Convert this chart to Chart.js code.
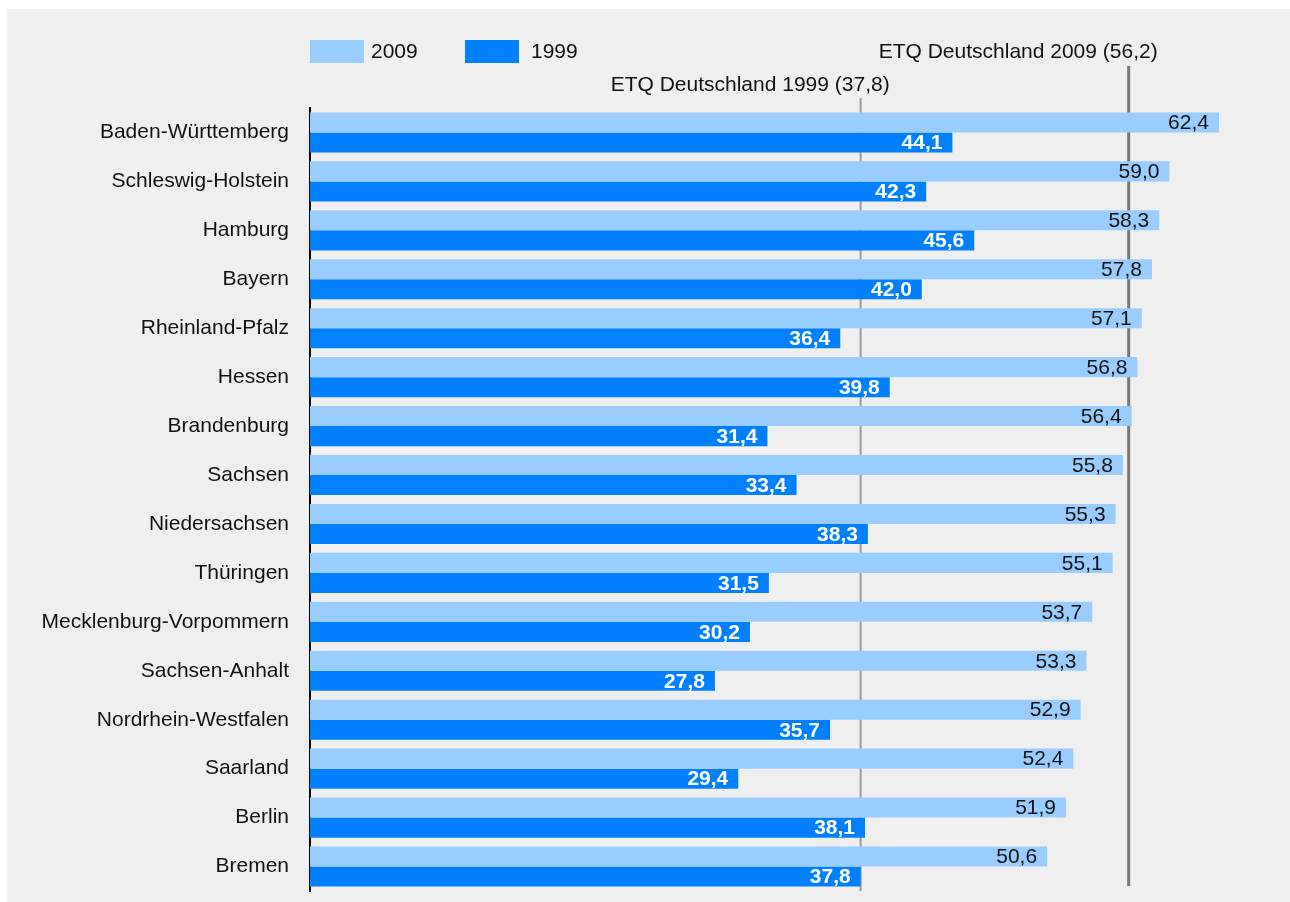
<!DOCTYPE html>
<html>
<head>
<meta charset="utf-8">
<script src="https://cdn.jsdelivr.net/npm/chart.js@4/dist/chart.umd.min.js"></script>
<style>
  body { margin: 0; background: #fff; }
  canvas { display: block; }
</style>
</head>
<body>
<canvas id="etq-chart" width="1290" height="902"></canvas>
<script>
const STATES = [
    'Baden-Württemberg', 'Schleswig-Holstein', 'Hamburg', 'Bayern',
    'Rheinland-Pfalz', 'Hessen', 'Brandenburg', 'Sachsen', 'Niedersachsen',
    'Thüringen', 'Mecklenburg-Vorpommern', 'Sachsen-Anhalt',
    'Nordrhein-Westfalen', 'Saarland', 'Berlin', 'Bremen'
];
const ETQ_2009 = [62.4, 59.0, 58.3, 57.8, 57.1, 56.8, 56.4, 55.8, 55.3, 55.1, 53.7, 53.3, 52.9, 52.4, 51.9, 50.6];
const ETQ_1999 = [44.1, 42.3, 45.6, 42.0, 36.4, 39.8, 31.4, 33.4, 38.3, 31.5, 30.2, 27.8, 35.7, 29.4, 38.1, 37.8];
const AVG_1999 = 37.8;
const AVG_2009 = 56.2;

const FONT = '"Liberation Sans", Arial, sans-serif';
const fmt = v => v.toFixed(1).replace('.', ',');

// grey panel, reference lines, own legend
const decorations = {
    id: 'decorations',
    beforeDraw(chart) {
        const ctx = chart.ctx;
        ctx.save();
        ctx.fillStyle = '#efefef';
        ctx.fillRect(7, 9, chart.width - 7, chart.height - 9);
        ctx.restore();
    },
    beforeDatasetsDraw(chart) {
        const ctx = chart.ctx;
        const x = chart.scales.x;
        const top = chart.chartArea.top;
        const bottom = chart.chartArea.bottom;
        const refs = [
            { v: AVG_1999, label: 'ETQ Deutschland 1999 (37,8)', color: '#9a9a9a', w: 2, lineTop: top - 10, labelY: top - 23, lineEnd: bottom },
            { v: AVG_2009, label: 'ETQ Deutschland 2009 (56,2)', color: '#777777', w: 3, lineTop: top - 42, labelY: top - 56, lineEnd: bottom - 5 }
        ];
        ctx.save();
        refs.forEach(r => {
            const px = x.getPixelForValue(r.v);
            ctx.strokeStyle = r.color;
            ctx.lineWidth = r.w;
            ctx.beginPath();
            ctx.moveTo(px, r.lineTop);
            ctx.lineTo(px, r.lineEnd);
            ctx.stroke();
            ctx.fillStyle = '#111';
            ctx.font = '21px ' + FONT;
            ctx.textAlign = 'right';
            ctx.textBaseline = 'middle';
            ctx.fillText(r.label, px + 29, r.labelY);
        });

        // legend
        let lx = chart.chartArea.left;
        chart.data.datasets.forEach((ds, i) => {
            ctx.fillStyle = ds.backgroundColor;
            ctx.fillRect(lx, 40, 54, 23);
            ctx.fillStyle = '#111';
            ctx.textAlign = 'left';
            ctx.fillText(ds.label, lx + 61 + (i ? 5 : 0), 52);
            lx += 155;
        });
        ctx.restore();
    },
    afterDatasetsDraw(chart) {
        const ctx = chart.ctx;
        ctx.save();
        ctx.textAlign = 'right';
        ctx.textBaseline = 'middle';
        chart.data.datasets.forEach((ds, i) => {
            const meta = chart.getDatasetMeta(i);
            ctx.font = (i ? 'bold ' : '') + '21px ' + FONT;
            ctx.fillStyle = i ? '#ffffff' : '#111111';
            meta.data.forEach((bar, j) => {
                ctx.fillText(fmt(ds.data[j]), bar.x - 10, bar.y + 1);
            });
        });
        ctx.restore();
    }
};

new Chart(document.getElementById('etq-chart'), {
    type: 'bar',
    data: {
        labels: STATES,
        datasets: [
            { label: '2009', data: ETQ_2009, backgroundColor: '#99ccff' },
            { label: '1999', data: ETQ_1999, backgroundColor: '#0080ff' }
        ]
    },
    options: {
        indexAxis: 'y',
        responsive: false,
        animation: false,
        devicePixelRatio: 1,
        categoryPercentage: 0.82,
        barPercentage: 1.0,
        layout: { autoPadding: false, padding: { top: 108, bottom: 11, left: 0, right: 4 } },
        scales: {
            x: {
                display: false, min: 0, max: 67,
                afterFit: s => { s.height = 0; }
            },
            y: {
                // tick padding would otherwise also pad the top/bottom of the plot
                afterFit: s => { s.width = 310; s.paddingTop = 0; s.paddingBottom = 0; },
                grid: { display: false, drawTicks: false },
                border: { display: true, color: '#000', width: 2 },
                ticks: { color: '#111', padding: 21, font: { family: FONT, size: 21 } }
            }
        },
        plugins: {
            legend: { display: false },
            tooltip: { enabled: false }
        }
    },
    plugins: [decorations]
});
</script>
</body>
</html>
